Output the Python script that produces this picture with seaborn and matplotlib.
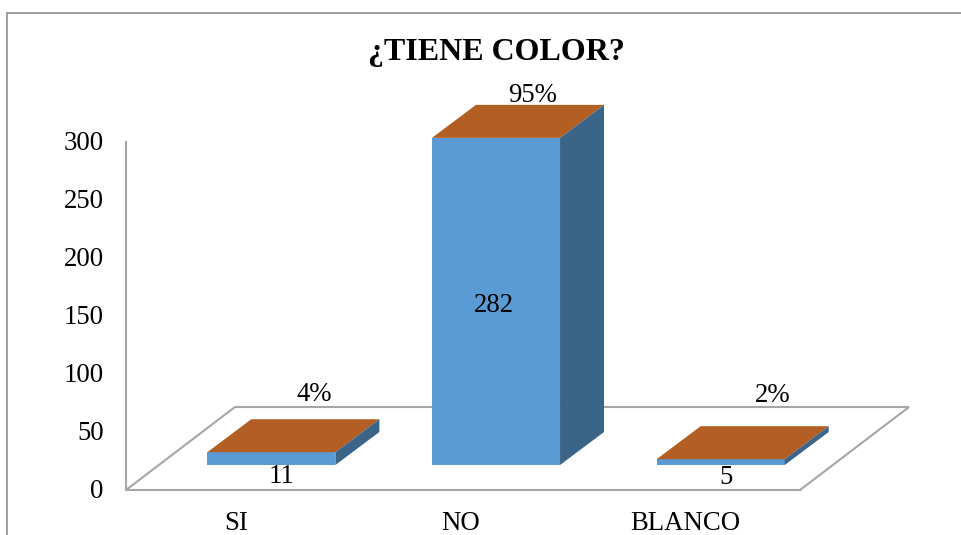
import matplotlib
matplotlib.use("Agg")
import matplotlib.pyplot as plt
import matplotlib.transforms as mtrans
from matplotlib.lines import Line2D
from matplotlib.patches import Polygon
import pandas as pd
import seaborn as sns

categories = ["SI", "NO", "BLANCO"]
counts = [11, 282, 5]
percent_labels = ["4%", "95%", "2%"]
y_ticks = [0, 50, 100, 150, 200, 250, 300]
title = "¿TIENE COLOR?"

FRONT, TOP, SIDE = "#5B9BD5", "#B35E22", "#3A6488"
GRID = "#A6A6A6"
W, H = 962, 535
FS = 19.3

sns.set_theme(style="white")
plt.rcParams["font.family"] = ["Liberation Serif", "DejaVu Serif"]

fig = plt.figure(figsize=(W / 100, H / 100), dpi=100, facecolor="white")
ax = fig.add_axes([126 / W, 1 - 490 / H, 674 / W, 348 / H])

df = pd.DataFrame({"cat": categories, "n": counts})
sns.barplot(data=df, x="cat", y="n", color=FRONT, saturation=1, width=0.57,
            ax=ax, zorder=3, linewidth=0, clip_on=False)
ax.set_xlim(-0.5, 2.5)
ax.set_ylim(0, 300)
ax.set_xlabel("")
ax.set_ylabel("")
ax.set_yticks(y_ticks)
ax.tick_params(axis="y", length=0, pad=16, labelsize=FS, labelcolor="black")
ax.tick_params(axis="x", length=0, pad=15, labelsize=FS, labelcolor="black")
for lab in ax.get_xticklabels():
    lab.set_transform(lab.get_transform() + mtrans.Affine2D().translate(-2, 0))
for lab in ax.get_yticklabels():
    lab.set_transform(lab.get_transform() + mtrans.Affine2D().translate(0, 1.5))
for s in ("top", "right"):
    ax.spines[s].set_visible(False)
for s in ("left", "bottom"):
    ax.spines[s].set_color(GRID)
    ax.spines[s].set_linewidth(1.5)
ax.patch.set_alpha(0)
ax.set_title(title, fontsize=23, fontweight="bold", color="black",
             x=0.55, pad=59)

# 3D look: depth of the box and shift of the bars on the floor, in pixels
depth_px = (44, 33)
shift_px = (33, 25)
floor_px = (109, 83)
shifted = ax.transData + mtrans.Affine2D().translate(*shift_px)
sx = 674 / 3
sy = 348 / 300
dx, dy = depth_px[0] / sx, depth_px[1] / sy

# floor
fx, fy = floor_px[0] / sx, floor_px[1] / sy
ax.add_patch(Polygon([(-0.5, 0), (-0.5 + fx, fy), (2.5 + fx, fy), (2.5, 0)],
                     closed=False, fill=False, edgecolor=GRID, linewidth=1.5,
                     zorder=1, clip_on=False))

for p in ax.patches:
    if isinstance(p, Polygon):
        continue
    p.set_transform(shifted)
    x0, x1, h = p.get_x(), p.get_x() + p.get_width(), p.get_height()
    ax.add_patch(Polygon([(x0, h), (x1, h), (x1 + dx, h + dy), (x0 + dx, h + dy)],
                         facecolor=TOP, edgecolor="none", transform=shifted,
                         zorder=3, clip_on=False))
    ax.add_patch(Polygon([(x1, 0), (x1 + dx, dy), (x1 + dx, h + dy), (x1, h)],
                         facecolor=SIDE, edgecolor="none", transform=shifted,
                         zorder=3, clip_on=False))

# data labels, placed relative to their bar
value_anchor = [1, 0.5, 1]
value_off = [(43, 1), (31, 21), (38, 7)]
pct_off = [(76, 83), (70, 67), (85, 89)]
for i, v in enumerate(counts):
    ax.annotate(str(v), (i, v * value_anchor[i]), xytext=value_off[i],
                textcoords="offset pixels", ha="center", va="center",
                fontsize=FS, color="black", zorder=5, annotation_clip=False)
    ax.annotate(percent_labels[i], (i, v), xytext=pct_off[i],
                textcoords="offset pixels", ha="center", va="center",
                fontsize=FS, color="black", zorder=5, annotation_clip=False)

# outer frame (cropped at right and bottom)
frame = [([7, 962], [13, 13]), ([7, 7], [13, 535])]
for xs, ys in frame:
    fig.add_artist(Line2D([x / W for x in xs], [1 - y / H for y in ys],
                          color="#8F8F8F", linewidth=1.2))

fig.savefig("out.png", dpi=100)
